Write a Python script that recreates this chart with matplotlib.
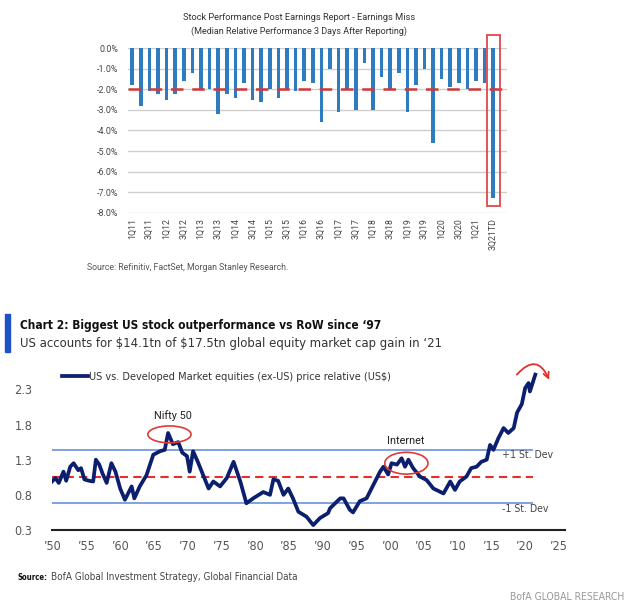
import os
import matplotlib
matplotlib.use("Agg")
import matplotlib.pyplot as plt
from matplotlib import font_manager as fm
from matplotlib.patches import Rectangle, Ellipse

# ---- data: chart 1 (earnings miss, median relative perf, %)
quarters = []
for yr in range(11, 22):
    for q in range(1, 5):
        quarters.append(f"{q}Q{yr}")
quarters = quarters[:43]
tick_labels = [q if i % 2 == 0 else "" for i, q in enumerate(quarters)]
tick_labels[-1] = "3Q21TD"
miss_perf = [-1.8, -2.8, -2.1, -2.2, -2.5, -2.2, -1.6, -1.2, -2.0, -2.0,
             -3.2, -2.2, -2.4, -1.7, -2.5, -2.6, -2.0, -2.4, -2.0, -2.1,
             -1.6, -1.7, -3.6, -1.0, -3.1, -2.0, -3.0, -0.7, -3.0, -1.4,
             -2.05, -1.2, -3.1, -1.8, -1.0, -4.6, -1.5, -1.9, -1.7, -2.0,
             -1.6, -1.7, -7.3]
miss_avg = -2.0
yticks1 = [0, -1, -2, -3, -4, -5, -6, -7, -8]

# ---- data: chart 2 (US vs DM ex-US price relative)
years = [1950.0, 1950.5, 1951.0, 1951.7, 1952.1, 1952.7, 1953.2, 1953.9, 1954.3, 1954.8,
         1955.5, 1956.1, 1956.5, 1957.0, 1957.5, 1958.1, 1958.8, 1959.4, 1960.1, 1960.8,
         1961.8, 1962.2, 1963.0, 1964.0, 1965.0, 1966.0, 1966.7, 1967.2, 1967.9, 1968.7,
         1969.3, 1970.0, 1970.4, 1970.9, 1971.6, 1972.4, 1973.2, 1973.9, 1974.9, 1975.9,
         1976.9, 1977.9, 1978.8, 1979.8, 1981.3, 1982.3, 1982.8, 1983.5, 1984.3, 1985.0,
         1985.7, 1986.5, 1987.7, 1988.7, 1989.7, 1990.9, 1991.2, 1992.7, 1993.2, 1994.1,
         1994.6, 1995.6, 1996.6, 1997.6, 1998.6, 1999.1, 1999.8, 2000.3, 2001.1, 2001.8,
         2002.3, 2002.8, 2003.5, 2004.5, 2005.5, 2006.5, 2008.0, 2009.0, 2009.7, 2010.4,
         2011.4, 2012.1, 2012.9, 2013.6, 2014.4, 2014.9, 2015.4, 2016.1, 2016.9, 2017.6,
         2018.4, 2018.9, 2019.6, 2020.1, 2020.6, 2020.8, 2021.6]
rel = [0.99, 1.04, 0.97, 1.13, 1.00, 1.20, 1.25, 1.15, 1.18, 1.02,
       1.00, 0.99, 1.30, 1.23, 1.10, 0.97, 1.25, 1.13, 0.89, 0.73,
       0.92, 0.75, 0.92, 1.08, 1.37, 1.42, 1.44, 1.68, 1.52, 1.55,
       1.40, 1.35, 1.13, 1.42, 1.27, 1.08, 0.89, 0.99, 0.92, 1.04,
       1.27, 0.99, 0.68, 0.75, 0.84, 0.80, 1.02, 1.00, 0.80, 0.89,
       0.75, 0.56, 0.49, 0.37, 0.47, 0.54, 0.61, 0.75, 0.75, 0.59,
       0.55, 0.71, 0.75, 0.94, 1.13, 1.20, 1.09, 1.25, 1.23, 1.32,
       1.20, 1.30, 1.18, 1.06, 1.01, 0.89, 0.82, 0.99, 0.87, 0.99,
       1.06, 1.18, 1.20, 1.27, 1.30, 1.51, 1.44, 1.60, 1.75, 1.68,
       1.75, 1.97, 2.09, 2.32, 2.39, 2.27, 2.51]
rel_mean = 1.06
rel_plus_sd = 1.44
rel_minus_sd = 0.68
yticks2 = [0.3, 0.8, 1.3, 1.8, 2.3]
xticks2 = list(range(1950, 2030, 5))


def find_narrow(bold):
    # look for an installed narrow/condensed face, else fall back to Roboto
    for f in fm.fontManager.ttflist:
        base = os.path.basename(f.fname).lower()
        if ("narrow" in base or "condensed" in base) and "italic" not in base \
                and "oblique" not in base and ("bold" in base) == bold:
            return fm.FontProperties(fname=f.fname)
    return fm.FontProperties(family="Roboto", weight="bold" if bold else "normal")


narrow = find_narrow(False)
narrow_b = find_narrow(True)

plt.rcParams["font.family"] = ["Roboto", "DejaVu Sans"]

W, H = 640, 603
fig = plt.figure(figsize=(W / 100, H / 100), dpi=100)
renderer = fig.canvas.get_renderer()


def fx(x):
    return x / W


def fy(y):
    return 1 - y / H


def fp(base, size):
    p = base.copy()
    p.set_size(size)
    return p


def fit_width(t, target_px):
    # scale a text's font size so that it spans the reference width
    w = t.get_window_extent(renderer=renderer).width
    if w > 0:
        t.set_fontsize(t.get_fontsize() * target_px / w)


# ================= chart 1 =================
ax1 = fig.add_axes([fx(128), fy(212.7), fx(507) - fx(128), fy(48.3) - fy(212.7)])
xs = list(range(len(miss_perf)))
ax1.bar(xs, miss_perf, width=0.42, color="#2f7bbf", zorder=2)
ax1.axhline(miss_avg, color="#d0393a", lw=1.8, ls=(0, (5, 3.5)), zorder=3)
ax1.set_ylim(-8, 0)
ax1.set_xlim(-0.5, 43.6)
ax1.set_yticks(yticks1)
ax1.set_yticklabels([f"{v:.1f}%" if v != 0 else "0.0%" for v in yticks1])
ax1.yaxis.grid(True, color="#cfcfcf", lw=1.0, zorder=0)
ax1.set_axisbelow(True)
for s in ax1.spines.values():
    s.set_visible(False)
ax1.tick_params(axis="y", length=0, pad=7, labelsize=6.4, labelcolor="#444444")
ax1.set_xticks(xs)
ax1.set_xticklabels(tick_labels, rotation=90, fontsize=6.3, color="#444444")
ax1.tick_params(axis="x", length=0, pad=4)
ax1.add_patch(Rectangle((41.3, -7.68), 1.43, 8.35, fill=False, ec="#e0474a", lw=1.3,
                        clip_on=False, zorder=4))

t = fig.text(fx(183), fy(17), "Stock Performance Post Earnings Report - Earnings Miss",
             ha="left", va="center", fontsize=6.5, color="#333333")
fit_width(t, 232)
t = fig.text(fx(191), fy(31), "(Median Relative Performance 3 Days After Reporting)",
             ha="left", va="center", fontsize=6.5, color="#333333")
fit_width(t, 216)
t = fig.text(fx(87), fy(268), "Source: Refinitiv, FactSet, Morgan Stanley Research.",
             ha="left", va="center", fontsize=6.2, color="#555555")
fit_width(t, 203)

# ================= chart 2 =================
fig.patches.append(Rectangle((fx(5), fy(352)), fx(5), fy(314) - fy(352),
                             transform=fig.transFigure, color="#1f52c8"))
fig.text(fx(20), fy(325), "Chart 2: Biggest US stock outperformance vs RoW since \u201897",
         ha="left", va="center", fontproperties=fp(narrow_b, 8.6), color="#111111")
t = fig.text(fx(20), fy(343),
             "US accounts for \\$14.1tn of \\$17.5tn global equity market cap gain in \u201821",
             ha="left", va="center", fontproperties=fp(narrow, 10), color="#333333")
fit_width(t, 420)

ax2 = fig.add_axes([fx(52), fy(530), fx(565) - fx(52), fy(368.3) - fy(530)])
ax2.set_xlim(1950, 2026)
ax2.set_ylim(0.3, 2.6)
ax2.hlines([rel_plus_sd, rel_minus_sd], 1950, 2021.3, color="#5b87d6", lw=1.1, zorder=1)
ax2.hlines([rel_mean], 1950, 2021.3, color="#e2302d", lw=1.5, ls=(0, (4, 2.5)), zorder=1)
ax2.plot(years, rel, color="#0b1f6e", lw=2.7, zorder=3,
         label="US vs. Developed Market equities (ex-US) price relative (US\\$)")
for s in ["top", "right", "left"]:
    ax2.spines[s].set_visible(False)
ax2.spines["bottom"].set_color("#222222")
ax2.spines["bottom"].set_linewidth(1.5)
ax2.set_yticks(yticks2)
ax2.set_yticklabels([f"{v:.1f}" for v in yticks2], fontproperties=fp(narrow, 9), color="#555555")
ax2.set_xticks(xticks2)
ax2.set_xticklabels([f"\u2019{y % 100:02d}" for y in xticks2], fontproperties=fp(narrow, 9),
                    color="#555555")
ax2.tick_params(axis="y", length=0, pad=14)
ax2.tick_params(axis="x", length=0, pad=7)

leg = ax2.legend(loc="upper left", bbox_to_anchor=(0.0, 1.04), frameon=False,
                 handlelength=2.4, handletextpad=0.15, prop=fp(narrow, 7.8))
for t in leg.get_texts():
    t.set_color("#333333")

ax2.add_patch(Ellipse((1967.4, 1.66), 6.4, 0.24, fill=False, ec="#e03a36", lw=1.2, zorder=4))
ax2.text(1967.9, 1.93, "Nifty 50", ha="center", va="center", fontsize=7.8, color="#222222")
ax2.add_patch(Ellipse((2002.5, 1.25), 6.4, 0.31, fill=False, ec="#e03a36", lw=1.2, zorder=4))
ax2.text(2002.4, 1.56, "Internet", ha="center", va="center", fontsize=7.8, color="#222222")
ax2.text(2016.7, 1.36, "+1 St. Dev", ha="left", va="center",
         fontproperties=fp(narrow, 7.6), color="#444444")
ax2.text(2016.7, 0.6, "-1 St. Dev", ha="left", va="center",
         fontproperties=fp(narrow, 7.6), color="#444444")
ax2.annotate("", xy=(2023.8, 2.40), xytext=(2018.6, 2.48),
             arrowprops=dict(arrowstyle="->", color="#e0312c", lw=1.3,
                             connectionstyle="arc3,rad=-0.85", mutation_scale=10),
             annotation_clip=False)

t = fig.text(fx(18), fy(577), "Source:", ha="left", va="center",
             fontproperties=fp(narrow_b, 6.5), color="#111111")
fit_width(t, 30)
t = fig.text(fx(51), fy(577), "BofA Global Investment Strategy, Global Financial Data",
             ha="left", va="center", fontproperties=fp(narrow, 7), color="#444444")
fit_width(t, 247)
fig.text(fx(510), fy(592), "BofA GLOBAL RESEARCH", ha="left", va="top",
         fontproperties=fp(narrow, 7.5), color="#999999")

fig.savefig("out.png", dpi=100, facecolor="white")
